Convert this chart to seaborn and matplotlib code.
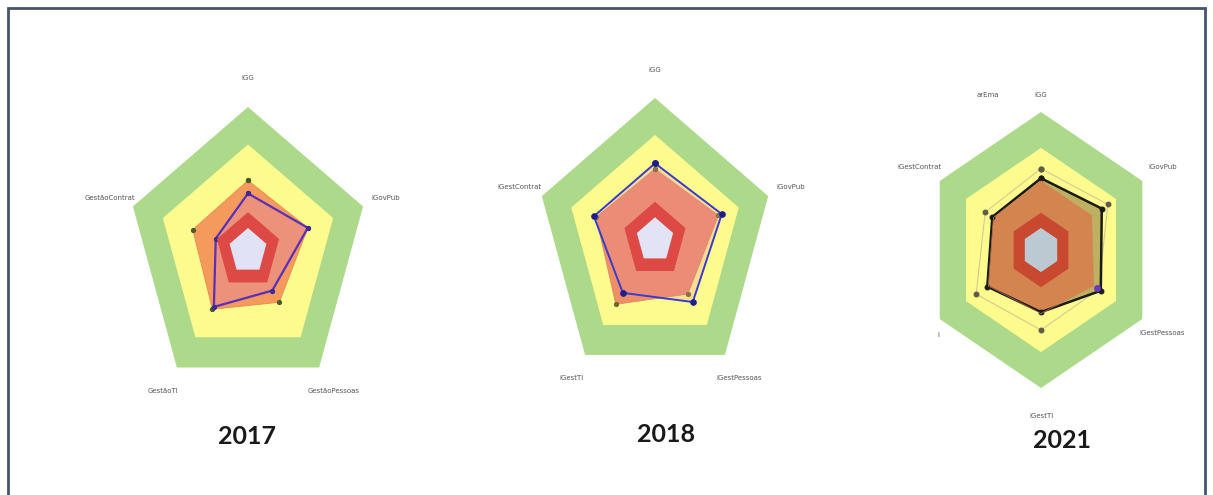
import numpy as np
import pandas as pd
import matplotlib
matplotlib.use("Agg")
import matplotlib.pyplot as plt
import seaborn as sns
from matplotlib.patches import Rectangle

sns.set_theme(style="white")
plt.rcParams['font.family'] = ['Lato', 'DejaVu Sans']

# ---- data -------------------------------------------------------------
years = ["2017", "2018", "2021"]

axes_2017 = ["iGG", "iGovPub", "GestãoPessoas", "GestãoTI", "GestãoContrat"]
axes_2018 = ["iGG", "iGovPub", "iGestPessoas", "iGestTI", "iGestContrat"]
axes_2021 = ["iGG", "iGovPub", "iGestPessoas", "iGestTI", "i", "iGestContrat"]

org_2017 = [0.49, 0.52, 0.44, 0.50, 0.48]
ref_2017 = [0.40, 0.52, 0.34, 0.48, 0.28]

org_2018 = [0.50, 0.56, 0.47, 0.56, 0.52]
ref_2018 = [0.54, 0.59, 0.54, 0.46, 0.54]

org_2021 = [0.50, 0.50, 0.52, 0.46, 0.52, 0.47]
ref_2021 = [0.52, 0.60, 0.59, 0.45, 0.53, 0.48]
seg_2021 = [0.59, 0.66, 0.57, 0.58, 0.64, 0.55]
mark_2021 = 0.55  # single marker on iGestPessoas

# maturity bands (outer radius of each band)
band_green = 1.0
band_yellow = 0.74
band_red = 0.27
band_core = 0.16

# ---- figure -----------------------------------------------------------
W, H = 1213, 495
fig = plt.figure(figsize=(W / 100, H / 100), dpi=100)
fig.patch.set_facecolor("white")


def make_ax(cx, cy, rx, ry):
    ax = fig.add_axes([(cx - rx) / W, (H - cy - ry) / H, 2 * rx / W, 2 * ry / H],
                      projection="polar")
    ax.set_aspect("auto")
    ax.set_theta_zero_location("N")
    ax.set_theta_direction(-1)
    ax.set_ylim(0, 1)
    ax.set_axis_off()
    return ax


def angles(n):
    return np.linspace(0, 2 * np.pi, n + 1)


def band(ax, n, r, color, z):
    th = angles(n)
    ax.fill(th, [r] * (n + 1), color=color, lw=0, zorder=z)


def series(ax, vals, color, lw, mcolor, ms, z, fill=None, alpha=1.0):
    n = len(vals)
    th = angles(n)
    rr = list(vals) + [vals[0]]
    if fill is not None:
        ax.fill(th, rr, color=fill, alpha=alpha, lw=0, zorder=z)
    df = pd.DataFrame({"theta": th, "r": rr})
    sns.lineplot(data=df, x="theta", y="r", sort=False, ax=ax, color=color,
                 lw=lw, marker="o", markersize=ms, markerfacecolor=mcolor,
                 markeredgecolor=mcolor, zorder=z + 0.5)


def labels(ax, names, r=1.2, color="#555555"):
    n = len(names)
    for i, name in enumerate(names):
        ax.text(2 * np.pi * i / n, r, name, ha="center", va="center",
                fontsize=5, color=color, family=["DejaVu Sans"])


green, yellow = "#add98a", "#fdfb8e"

# 2017
ax1 = make_ax(248, 251, 121, 144)
band(ax1, 5, band_green, green, 1)
band(ax1, 5, band_yellow, yellow, 2)
series(ax1, org_2017, "#e58a50", 0.6, "#4a5a2a", 3, 3, fill="#f49a5c")
series(ax1, ref_2017, "#5b2fb8", 1.6, "#3a2a9a", 3, 4, fill="#e58aa0", alpha=0.45)
band(ax1, 5, band_red, "#dd4a45", 6)
band(ax1, 5, band_core, "#e2e2f6", 7)
labels(ax1, axes_2017)

# 2018
ax2 = make_ax(655, 240, 119, 142)
band(ax2, 5, band_green, green, 1)
band(ax2, 5, band_yellow, yellow, 2)
series(ax2, org_2018, "#d98a60", 0.6, "#6a6a2a", 3, 3, fill="#ee8f68")
series(ax2, ref_2018, "#3a3ad0", 1.4, "#1e1e8c", 4, 4, fill="#e58aa0", alpha=0.25)
band(ax2, 5, band_red, "#dd4a45", 6)
band(ax2, 5, band_core, "#e2e4f6", 7)
labels(ax2, axes_2018)

# 2021
ax3 = make_ax(1041, 250, 117, 138)
band(ax3, 6, band_green, green, 1)
band(ax3, 6, band_yellow, yellow, 2)
series(ax3, seg_2021, "#d8c890", 0.8, "#5c5c48", 3.5, 3)
series(ax3, ref_2021, "#1a1a1a", 1.8, "#1a1a1a", 3.5, 5, fill="#b8a85c", alpha=0.9)
series(ax3, org_2021, "#d4844f", 0.4, "#d4844f", 0.1, 5.2, fill="#d4844f")
ax3.plot([2 * np.pi * 2 / 6], [mark_2021], "o", color="#6a3ab8", ms=4, zorder=6)
band(ax3, 6, band_red, "#c8492f", 6.5)
band(ax3, 6, band_core, "#bcc8d2", 7)
for i, name in enumerate(axes_2021):
    th, r = 2 * np.pi * i / 6, 1.2
    if name == "i":
        th, r = np.deg2rad(235), 1.07
    if name == "iGG":
        r = 1.12
    ax3.text(th, r, name, ha="center", va="center", fontsize=5,
             color="#555555", family=["DejaVu Sans"])
ax3.text(np.deg2rad(338), 1.21, "arEma", ha="center", va="center",
         fontsize=5, color="#555555", family=["DejaVu Sans"])

# year captions
for yr, (x, y) in zip(years, [(247, 436), (666, 434), (1062, 440)]):
    fig.text(x / W, 1 - y / H, yr, ha="center", va="center", fontsize=18,
             fontweight="bold", color="#1a1a1a")

# frame
fig.add_artist(Rectangle((8 / W, -0.05), (1205 - 8) / W, (H - 8) / H + 0.05,
                         transform=fig.transFigure, fill=False,
                         ec="#45546f", lw=2))

fig.savefig("out.png", dpi=100)
